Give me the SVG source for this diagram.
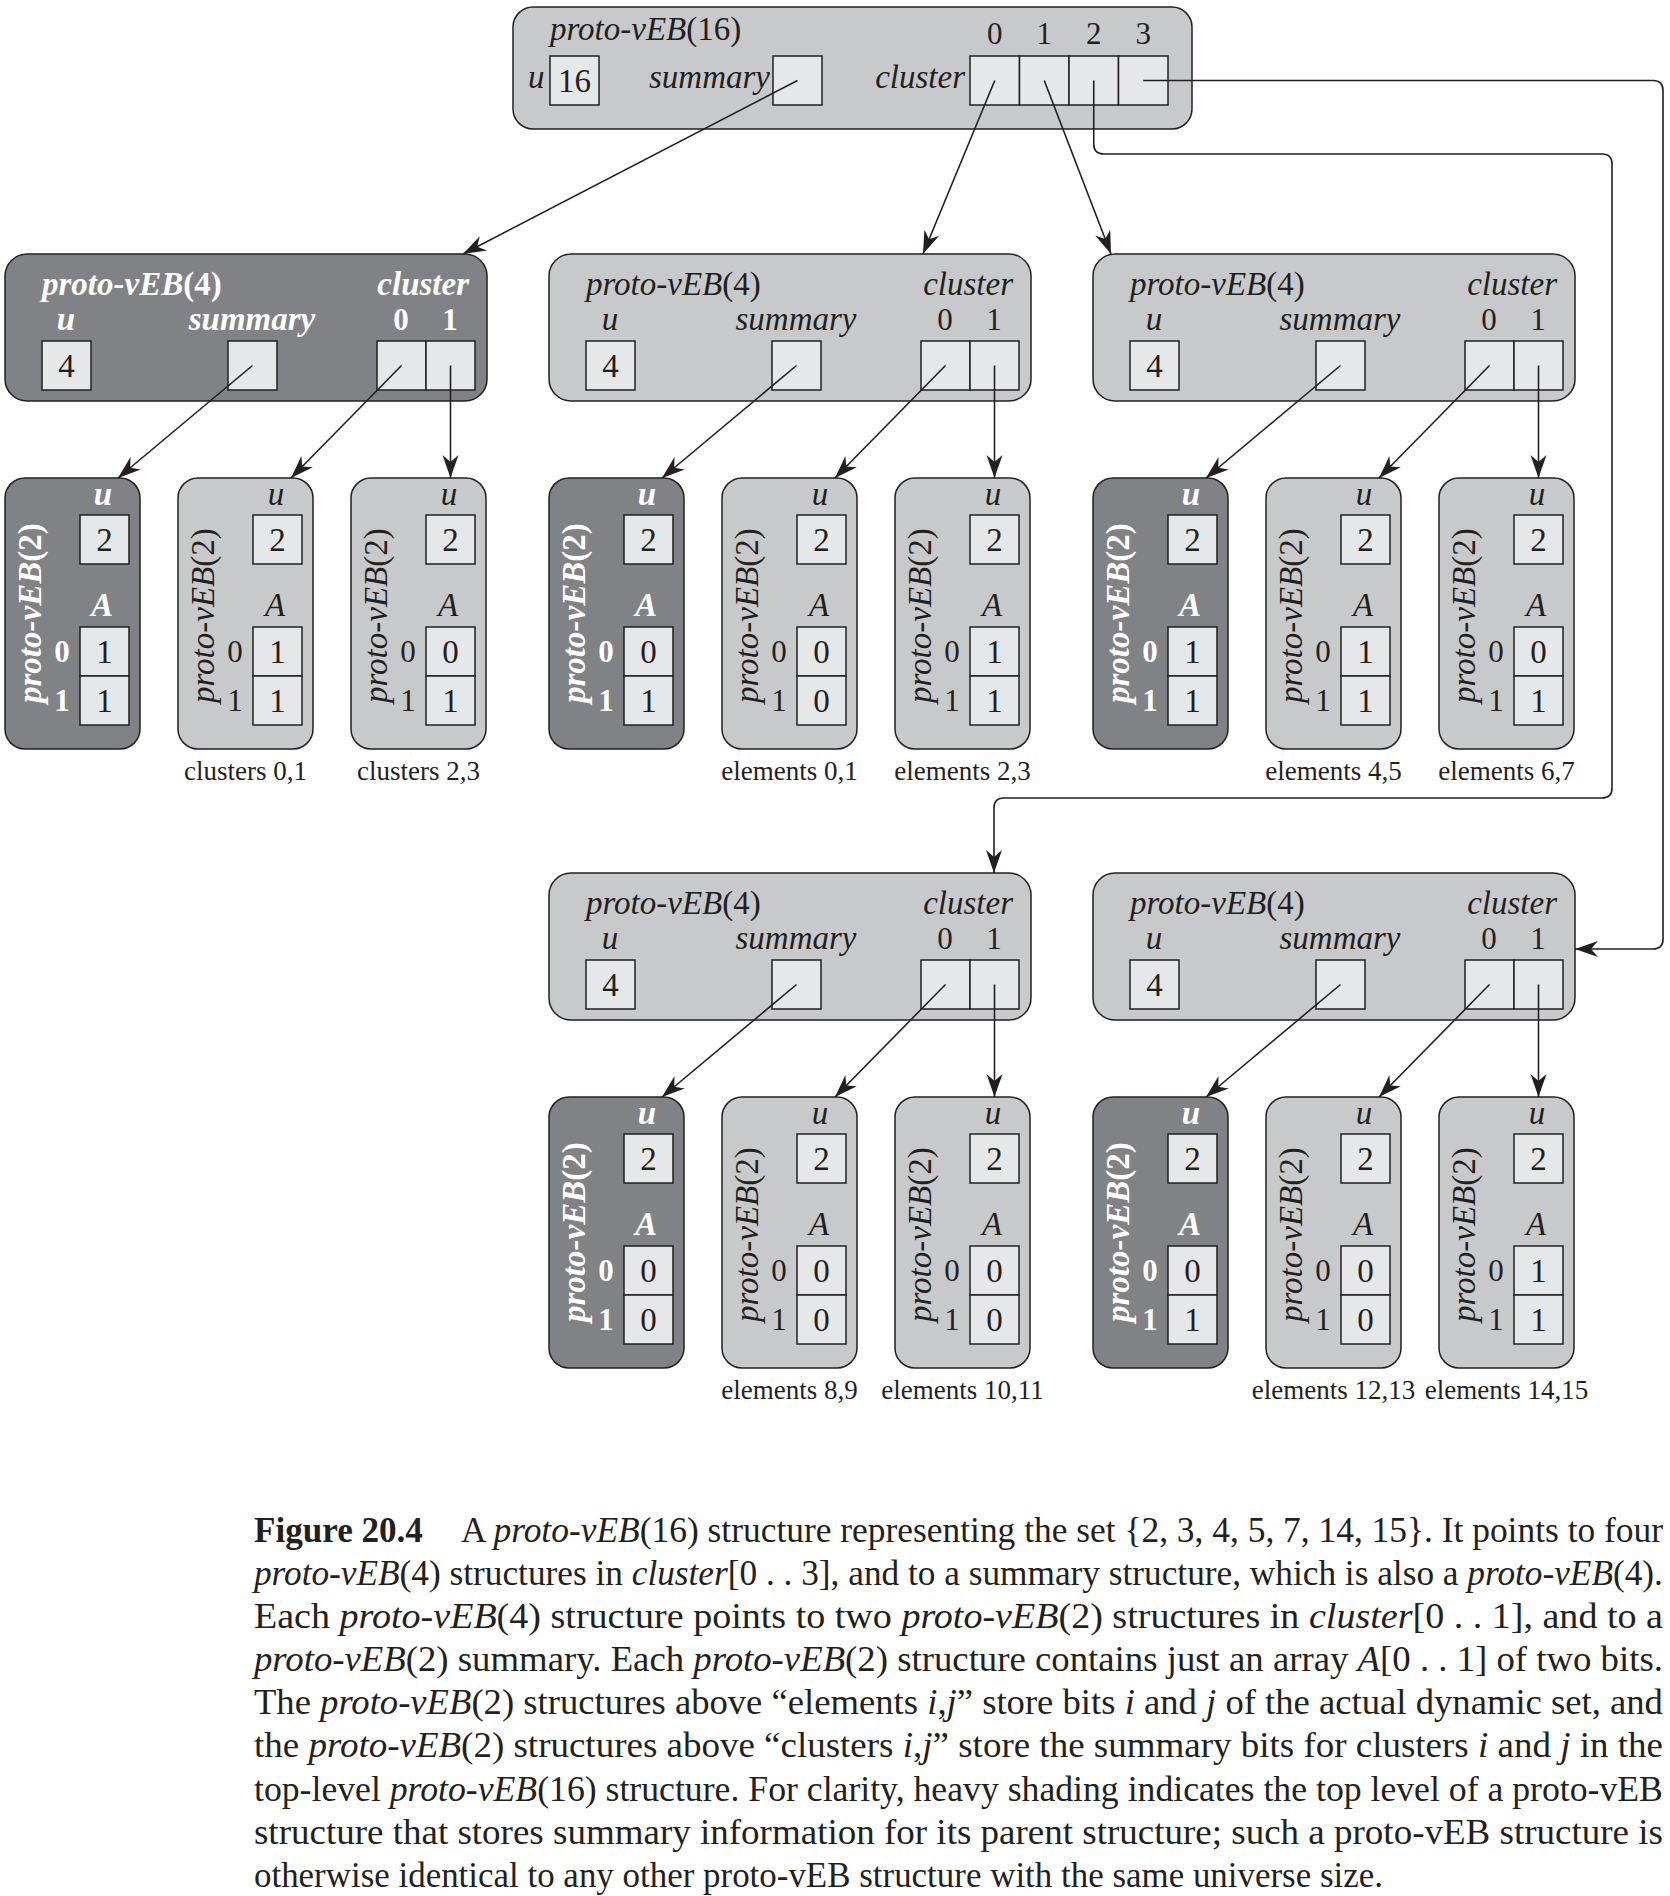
<svg xmlns="http://www.w3.org/2000/svg" width="1670" height="1896" viewBox="0 0 1670 1896">
<defs>
<style>
.lt{fill:#c8c9cb;stroke:#231f20;stroke-width:1.5}
.dk{fill:#808285;stroke:#231f20;stroke-width:1.5}
.cell{fill:#e6e7e8;stroke:#231f20;stroke-width:1.5}
text{font-family:"Liberation Serif","Times New Roman",serif;font-size:33px;fill:#231f20}
.i{font-style:italic}
.w{fill:#fff;font-weight:bold}
.c{text-anchor:middle}
.e{text-anchor:end}
.ix{font-size:31px}
.lbl{font-size:27px;text-anchor:middle}
.cap{font-size:36px}
.b{font-weight:bold}
.conn path{fill:none;stroke:#231f20;stroke-width:1.6;marker-end:url(#ah)}
</style>
<marker id="ah" viewBox="-24 -9 25 18" refX="0" refY="0" markerWidth="25" markerHeight="18" markerUnits="userSpaceOnUse" orient="auto">
<path d="M0,0 L-23,-8 L-16,0 L-23,8 Z" fill="#231f20"/>
</marker>
</defs>
<rect x="0" y="0" width="1670" height="1896" fill="#fff"/>

<g id="veb16">
<rect class="lt" x="513" y="7" width="679" height="122" rx="20"/>
<text x="550" y="40"><tspan class="i">proto-vEB</tspan>(16)</text>
<text class="i" x="528" y="88">u</text>
<rect class="cell" x="550" y="56" width="49" height="49"/>
<text class="c" x="574.5" y="92">16</text>
<text class="i e" x="770" y="88">summary</text>
<rect class="cell" x="773" y="56" width="49" height="49"/>
<text class="i e" x="965" y="88">cluster</text>
<rect class="cell" x="970" y="56" width="49.5" height="49"/>
<rect class="cell" x="1019.5" y="56" width="49.5" height="49"/>
<rect class="cell" x="1069" y="56" width="49.5" height="49"/>
<rect class="cell" x="1118.5" y="56" width="49.5" height="49"/>
<text class="c ix" x="994.75" y="44">0</text>
<text class="c ix" x="1044.25" y="44">1</text>
<text class="c ix" x="1093.75" y="44">2</text>
<text class="c ix" x="1143.25" y="44">3</text>
</g>

<g id="veb4-summary" transform="translate(5,254)">
<rect class="dk" x="0" y="0" width="482" height="147" rx="22"/>
<text class="w" x="37" y="41"><tspan class="i">proto-vEB</tspan>(4)</text>
<text class="w i e" x="464" y="41">cluster</text>
<text class="w i c" x="61" y="76">u</text>
<text class="w i c" x="247" y="76">summary</text>
<text class="w c ix" x="396" y="76">0</text>
<text class="w c ix" x="445" y="76">1</text>
<rect class="cell" x="37" y="87" width="49" height="49"/>
<text class="c" x="61.5" y="123">4</text>
<rect class="cell" x="223" y="87" width="49" height="49"/>
<rect class="cell" x="372" y="87" width="49" height="49"/>
<rect class="cell" x="421" y="87" width="49" height="49"/>
</g>

<g id="veb4-c0" transform="translate(549,254)">
<rect class="lt" x="0" y="0" width="482" height="147" rx="22"/>
<text x="37" y="41"><tspan class="i">proto-vEB</tspan>(4)</text>
<text class="i e" x="464" y="41">cluster</text>
<text class="i c" x="61" y="76">u</text>
<text class="i c" x="247" y="76">summary</text>
<text class="c ix" x="396" y="76">0</text>
<text class="c ix" x="445" y="76">1</text>
<rect class="cell" x="37" y="87" width="49" height="49"/>
<text class="c" x="61.5" y="123">4</text>
<rect class="cell" x="223" y="87" width="49" height="49"/>
<rect class="cell" x="372" y="87" width="49" height="49"/>
<rect class="cell" x="421" y="87" width="49" height="49"/>
</g>

<g id="veb4-c1" transform="translate(1093,254)">
<rect class="lt" x="0" y="0" width="482" height="147" rx="22"/>
<text x="37" y="41"><tspan class="i">proto-vEB</tspan>(4)</text>
<text class="i e" x="464" y="41">cluster</text>
<text class="i c" x="61" y="76">u</text>
<text class="i c" x="247" y="76">summary</text>
<text class="c ix" x="396" y="76">0</text>
<text class="c ix" x="445" y="76">1</text>
<rect class="cell" x="37" y="87" width="49" height="49"/>
<text class="c" x="61.5" y="123">4</text>
<rect class="cell" x="223" y="87" width="49" height="49"/>
<rect class="cell" x="372" y="87" width="49" height="49"/>
<rect class="cell" x="421" y="87" width="49" height="49"/>
</g>

<g id="veb4-c2" transform="translate(549,873)">
<rect class="lt" x="0" y="0" width="482" height="147" rx="22"/>
<text x="37" y="41"><tspan class="i">proto-vEB</tspan>(4)</text>
<text class="i e" x="464" y="41">cluster</text>
<text class="i c" x="61" y="76">u</text>
<text class="i c" x="247" y="76">summary</text>
<text class="c ix" x="396" y="76">0</text>
<text class="c ix" x="445" y="76">1</text>
<rect class="cell" x="37" y="87" width="49" height="49"/>
<text class="c" x="61.5" y="123">4</text>
<rect class="cell" x="223" y="87" width="49" height="49"/>
<rect class="cell" x="372" y="87" width="49" height="49"/>
<rect class="cell" x="421" y="87" width="49" height="49"/>
</g>

<g id="veb4-c3" transform="translate(1093,873)">
<rect class="lt" x="0" y="0" width="482" height="147" rx="22"/>
<text x="37" y="41"><tspan class="i">proto-vEB</tspan>(4)</text>
<text class="i e" x="464" y="41">cluster</text>
<text class="i c" x="61" y="76">u</text>
<text class="i c" x="247" y="76">summary</text>
<text class="c ix" x="396" y="76">0</text>
<text class="c ix" x="445" y="76">1</text>
<rect class="cell" x="37" y="87" width="49" height="49"/>
<text class="c" x="61.5" y="123">4</text>
<rect class="cell" x="223" y="87" width="49" height="49"/>
<rect class="cell" x="372" y="87" width="49" height="49"/>
<rect class="cell" x="421" y="87" width="49" height="49"/>
</g>

<!-- proto-vEB(2) nodes, row 1 -->
<g id="veb2-r1c1" transform="translate(5,478)">
<rect class="dk" x="0" y="0" width="135" height="271" rx="20"/>
<text class="w i c" x="98" y="27">u</text>
<rect class="cell" x="75" y="37" width="49" height="49"/><text class="c" x="99.5" y="73">2</text>
<text class="w i c" x="97" y="138">A</text>
<rect class="cell" x="75" y="149" width="49" height="49"/><rect class="cell" x="75" y="198" width="49" height="49"/>
<text class="c" x="99.5" y="185">1</text><text class="c" x="99.5" y="234">1</text>
<text class="w c ix" x="57" y="184">0</text><text class="w c ix" x="57" y="233">1</text>
<text class="w" transform="translate(36,225) rotate(-90)"><tspan class="i">proto-vEB</tspan>(2)</text>
</g>
<g id="veb2-r1c2" transform="translate(178,478)">
<rect class="lt" x="0" y="0" width="135" height="271" rx="20"/>
<text class="i c" x="98" y="27">u</text>
<rect class="cell" x="75" y="37" width="49" height="49"/><text class="c" x="99.5" y="73">2</text>
<text class="i c" x="97" y="138">A</text>
<rect class="cell" x="75" y="149" width="49" height="49"/><rect class="cell" x="75" y="198" width="49" height="49"/>
<text class="c" x="99.5" y="185">1</text><text class="c" x="99.5" y="234">1</text>
<text class="c ix" x="57" y="184">0</text><text class="c ix" x="57" y="233">1</text>
<text transform="translate(36,225) rotate(-90)"><tspan class="i">proto-vEB</tspan>(2)</text>
<text class="lbl" x="67.5" y="302">clusters 0,1</text>
</g>
<g id="veb2-r1c3" transform="translate(351,478)">
<rect class="lt" x="0" y="0" width="135" height="271" rx="20"/>
<text class="i c" x="98" y="27">u</text>
<rect class="cell" x="75" y="37" width="49" height="49"/><text class="c" x="99.5" y="73">2</text>
<text class="i c" x="97" y="138">A</text>
<rect class="cell" x="75" y="149" width="49" height="49"/><rect class="cell" x="75" y="198" width="49" height="49"/>
<text class="c" x="99.5" y="185">0</text><text class="c" x="99.5" y="234">1</text>
<text class="c ix" x="57" y="184">0</text><text class="c ix" x="57" y="233">1</text>
<text transform="translate(36,225) rotate(-90)"><tspan class="i">proto-vEB</tspan>(2)</text>
<text class="lbl" x="67.5" y="302">clusters 2,3</text>
</g>
<g id="veb2-r1c4" transform="translate(549,478)">
<rect class="dk" x="0" y="0" width="135" height="271" rx="20"/>
<text class="w i c" x="98" y="27">u</text>
<rect class="cell" x="75" y="37" width="49" height="49"/><text class="c" x="99.5" y="73">2</text>
<text class="w i c" x="97" y="138">A</text>
<rect class="cell" x="75" y="149" width="49" height="49"/><rect class="cell" x="75" y="198" width="49" height="49"/>
<text class="c" x="99.5" y="185">0</text><text class="c" x="99.5" y="234">1</text>
<text class="w c ix" x="57" y="184">0</text><text class="w c ix" x="57" y="233">1</text>
<text class="w" transform="translate(36,225) rotate(-90)"><tspan class="i">proto-vEB</tspan>(2)</text>
</g>
<g id="veb2-r1c5" transform="translate(722,478)">
<rect class="lt" x="0" y="0" width="135" height="271" rx="20"/>
<text class="i c" x="98" y="27">u</text>
<rect class="cell" x="75" y="37" width="49" height="49"/><text class="c" x="99.5" y="73">2</text>
<text class="i c" x="97" y="138">A</text>
<rect class="cell" x="75" y="149" width="49" height="49"/><rect class="cell" x="75" y="198" width="49" height="49"/>
<text class="c" x="99.5" y="185">0</text><text class="c" x="99.5" y="234">0</text>
<text class="c ix" x="57" y="184">0</text><text class="c ix" x="57" y="233">1</text>
<text transform="translate(36,225) rotate(-90)"><tspan class="i">proto-vEB</tspan>(2)</text>
<text class="lbl" x="67.5" y="302">elements 0,1</text>
</g>
<g id="veb2-r1c6" transform="translate(895,478)">
<rect class="lt" x="0" y="0" width="135" height="271" rx="20"/>
<text class="i c" x="98" y="27">u</text>
<rect class="cell" x="75" y="37" width="49" height="49"/><text class="c" x="99.5" y="73">2</text>
<text class="i c" x="97" y="138">A</text>
<rect class="cell" x="75" y="149" width="49" height="49"/><rect class="cell" x="75" y="198" width="49" height="49"/>
<text class="c" x="99.5" y="185">1</text><text class="c" x="99.5" y="234">1</text>
<text class="c ix" x="57" y="184">0</text><text class="c ix" x="57" y="233">1</text>
<text transform="translate(36,225) rotate(-90)"><tspan class="i">proto-vEB</tspan>(2)</text>
<text class="lbl" x="67.5" y="302">elements 2,3</text>
</g>
<g id="veb2-r1c7" transform="translate(1093,478)">
<rect class="dk" x="0" y="0" width="135" height="271" rx="20"/>
<text class="w i c" x="98" y="27">u</text>
<rect class="cell" x="75" y="37" width="49" height="49"/><text class="c" x="99.5" y="73">2</text>
<text class="w i c" x="97" y="138">A</text>
<rect class="cell" x="75" y="149" width="49" height="49"/><rect class="cell" x="75" y="198" width="49" height="49"/>
<text class="c" x="99.5" y="185">1</text><text class="c" x="99.5" y="234">1</text>
<text class="w c ix" x="57" y="184">0</text><text class="w c ix" x="57" y="233">1</text>
<text class="w" transform="translate(36,225) rotate(-90)"><tspan class="i">proto-vEB</tspan>(2)</text>
</g>
<g id="veb2-r1c8" transform="translate(1266,478)">
<rect class="lt" x="0" y="0" width="135" height="271" rx="20"/>
<text class="i c" x="98" y="27">u</text>
<rect class="cell" x="75" y="37" width="49" height="49"/><text class="c" x="99.5" y="73">2</text>
<text class="i c" x="97" y="138">A</text>
<rect class="cell" x="75" y="149" width="49" height="49"/><rect class="cell" x="75" y="198" width="49" height="49"/>
<text class="c" x="99.5" y="185">1</text><text class="c" x="99.5" y="234">1</text>
<text class="c ix" x="57" y="184">0</text><text class="c ix" x="57" y="233">1</text>
<text transform="translate(36,225) rotate(-90)"><tspan class="i">proto-vEB</tspan>(2)</text>
<text class="lbl" x="67.5" y="302">elements 4,5</text>
</g>
<g id="veb2-r1c9" transform="translate(1439,478)">
<rect class="lt" x="0" y="0" width="135" height="271" rx="20"/>
<text class="i c" x="98" y="27">u</text>
<rect class="cell" x="75" y="37" width="49" height="49"/><text class="c" x="99.5" y="73">2</text>
<text class="i c" x="97" y="138">A</text>
<rect class="cell" x="75" y="149" width="49" height="49"/><rect class="cell" x="75" y="198" width="49" height="49"/>
<text class="c" x="99.5" y="185">0</text><text class="c" x="99.5" y="234">1</text>
<text class="c ix" x="57" y="184">0</text><text class="c ix" x="57" y="233">1</text>
<text transform="translate(36,225) rotate(-90)"><tspan class="i">proto-vEB</tspan>(2)</text>
<text class="lbl" x="67.5" y="302">elements 6,7</text>
</g>

<!-- proto-vEB(2) nodes, row 2 -->
<g id="veb2-r2c4" transform="translate(549,1097)">
<rect class="dk" x="0" y="0" width="135" height="271" rx="20"/>
<text class="w i c" x="98" y="27">u</text>
<rect class="cell" x="75" y="37" width="49" height="49"/><text class="c" x="99.5" y="73">2</text>
<text class="w i c" x="97" y="138">A</text>
<rect class="cell" x="75" y="149" width="49" height="49"/><rect class="cell" x="75" y="198" width="49" height="49"/>
<text class="c" x="99.5" y="185">0</text><text class="c" x="99.5" y="234">0</text>
<text class="w c ix" x="57" y="184">0</text><text class="w c ix" x="57" y="233">1</text>
<text class="w" transform="translate(36,225) rotate(-90)"><tspan class="i">proto-vEB</tspan>(2)</text>
</g>
<g id="veb2-r2c5" transform="translate(722,1097)">
<rect class="lt" x="0" y="0" width="135" height="271" rx="20"/>
<text class="i c" x="98" y="27">u</text>
<rect class="cell" x="75" y="37" width="49" height="49"/><text class="c" x="99.5" y="73">2</text>
<text class="i c" x="97" y="138">A</text>
<rect class="cell" x="75" y="149" width="49" height="49"/><rect class="cell" x="75" y="198" width="49" height="49"/>
<text class="c" x="99.5" y="185">0</text><text class="c" x="99.5" y="234">0</text>
<text class="c ix" x="57" y="184">0</text><text class="c ix" x="57" y="233">1</text>
<text transform="translate(36,225) rotate(-90)"><tspan class="i">proto-vEB</tspan>(2)</text>
<text class="lbl" x="67.5" y="302">elements 8,9</text>
</g>
<g id="veb2-r2c6" transform="translate(895,1097)">
<rect class="lt" x="0" y="0" width="135" height="271" rx="20"/>
<text class="i c" x="98" y="27">u</text>
<rect class="cell" x="75" y="37" width="49" height="49"/><text class="c" x="99.5" y="73">2</text>
<text class="i c" x="97" y="138">A</text>
<rect class="cell" x="75" y="149" width="49" height="49"/><rect class="cell" x="75" y="198" width="49" height="49"/>
<text class="c" x="99.5" y="185">0</text><text class="c" x="99.5" y="234">0</text>
<text class="c ix" x="57" y="184">0</text><text class="c ix" x="57" y="233">1</text>
<text transform="translate(36,225) rotate(-90)"><tspan class="i">proto-vEB</tspan>(2)</text>
<text class="lbl" x="67.5" y="302">elements 10,11</text>
</g>
<g id="veb2-r2c7" transform="translate(1093,1097)">
<rect class="dk" x="0" y="0" width="135" height="271" rx="20"/>
<text class="w i c" x="98" y="27">u</text>
<rect class="cell" x="75" y="37" width="49" height="49"/><text class="c" x="99.5" y="73">2</text>
<text class="w i c" x="97" y="138">A</text>
<rect class="cell" x="75" y="149" width="49" height="49"/><rect class="cell" x="75" y="198" width="49" height="49"/>
<text class="c" x="99.5" y="185">0</text><text class="c" x="99.5" y="234">1</text>
<text class="w c ix" x="57" y="184">0</text><text class="w c ix" x="57" y="233">1</text>
<text class="w" transform="translate(36,225) rotate(-90)"><tspan class="i">proto-vEB</tspan>(2)</text>
</g>
<g id="veb2-r2c8" transform="translate(1266,1097)">
<rect class="lt" x="0" y="0" width="135" height="271" rx="20"/>
<text class="i c" x="98" y="27">u</text>
<rect class="cell" x="75" y="37" width="49" height="49"/><text class="c" x="99.5" y="73">2</text>
<text class="i c" x="97" y="138">A</text>
<rect class="cell" x="75" y="149" width="49" height="49"/><rect class="cell" x="75" y="198" width="49" height="49"/>
<text class="c" x="99.5" y="185">0</text><text class="c" x="99.5" y="234">0</text>
<text class="c ix" x="57" y="184">0</text><text class="c ix" x="57" y="233">1</text>
<text transform="translate(36,225) rotate(-90)"><tspan class="i">proto-vEB</tspan>(2)</text>
<text class="lbl" x="67.5" y="302">elements 12,13</text>
</g>
<g id="veb2-r2c9" transform="translate(1439,1097)">
<rect class="lt" x="0" y="0" width="135" height="271" rx="20"/>
<text class="i c" x="98" y="27">u</text>
<rect class="cell" x="75" y="37" width="49" height="49"/><text class="c" x="99.5" y="73">2</text>
<text class="i c" x="97" y="138">A</text>
<rect class="cell" x="75" y="149" width="49" height="49"/><rect class="cell" x="75" y="198" width="49" height="49"/>
<text class="c" x="99.5" y="185">1</text><text class="c" x="99.5" y="234">1</text>
<text class="c ix" x="57" y="184">0</text><text class="c ix" x="57" y="233">1</text>
<text transform="translate(36,225) rotate(-90)"><tspan class="i">proto-vEB</tspan>(2)</text>
<text class="lbl" x="67.5" y="302">elements 14,15</text>
</g>

<g id="connectors" class="conn">
<path d="M797.5,80.5 L463,254"/>
<path d="M994.75,80.5 L923,254"/>
<path d="M1044.25,80.5 L1111,254"/>
<path d="M1093.75,80.5 V144 Q1093.75,154 1103.75,154 H1602 Q1612,154 1612,164 V788 Q1612,798 1602,798 H1004 Q994,798 994,808 V873"/>
<path d="M1143.25,80.5 H1653 Q1663,80.5 1663,90.5 V939 Q1663,949 1653,949 H1575"/>
<path d="M252.5,365.5 L118,478"/>
<path d="M401.5,365.5 L291,478"/>
<path d="M450.5,365.5 V478"/>
<path d="M796.5,365.5 L662,478"/>
<path d="M945.5,365.5 L835,478"/>
<path d="M994.5,365.5 V478"/>
<path d="M1340.5,365.5 L1206,478"/>
<path d="M1489.5,365.5 L1379,478"/>
<path d="M1538.5,365.5 V478"/>
<path d="M796.5,984.5 L662,1097"/>
<path d="M945.5,984.5 L835,1097"/>
<path d="M994.5,984.5 V1097"/>
<path d="M1340.5,984.5 L1206,1097"/>
<path d="M1489.5,984.5 L1379,1097"/>
<path d="M1538.5,984.5 V1097"/>
</g>

<g id="caption" transform="scale(0.88,1)">
<text class="cap b" x="288.6" y="1542" textLength="192" lengthAdjust="spacingAndGlyphs">Figure 20.4</text>
<text class="cap" x="523.9" y="1542" textLength="1365.9" lengthAdjust="spacingAndGlyphs">A <tspan class="i">proto-vEB</tspan>(16) structure representing the set {2, 3, 4, 5, 7, 14, 15}. It points to four</text>
<text class="cap" x="288.6" y="1585" textLength="1601.1" lengthAdjust="spacingAndGlyphs"><tspan class="i">proto-vEB</tspan>(4) structures in <tspan class="i">cluster</tspan>[0 . . 3], and to a summary structure, which is also a <tspan class="i">proto-vEB</tspan>(4).</text>
<text class="cap" x="288.6" y="1628" textLength="1601.1" lengthAdjust="spacingAndGlyphs">Each <tspan class="i">proto-vEB</tspan>(4) structure points to two <tspan class="i">proto-vEB</tspan>(2) structures in <tspan class="i">cluster</tspan>[0 . . 1], and to a</text>
<text class="cap" x="288.6" y="1671" textLength="1601.1" lengthAdjust="spacingAndGlyphs"><tspan class="i">proto-vEB</tspan>(2) summary. Each <tspan class="i">proto-vEB</tspan>(2) structure contains just an array <tspan class="i">A</tspan>[0 . . 1] of two bits.</text>
<text class="cap" x="288.6" y="1714" textLength="1601.1" lengthAdjust="spacingAndGlyphs">The <tspan class="i">proto-vEB</tspan>(2) structures above “elements <tspan class="i">i</tspan>,<tspan class="i">j</tspan>” store bits <tspan class="i">i</tspan> and <tspan class="i">j</tspan> of the actual dynamic set, and</text>
<text class="cap" x="288.6" y="1757" textLength="1601.1" lengthAdjust="spacingAndGlyphs">the <tspan class="i">proto-vEB</tspan>(2) structures above “clusters <tspan class="i">i</tspan>,<tspan class="i">j</tspan>” store the summary bits for clusters <tspan class="i">i</tspan> and <tspan class="i">j</tspan> in the</text>
<text class="cap" x="288.6" y="1801" textLength="1601.1" lengthAdjust="spacingAndGlyphs">top-level <tspan class="i">proto-vEB</tspan>(16) structure. For clarity, heavy shading indicates the top level of a proto-vEB</text>
<text class="cap" x="288.6" y="1844" textLength="1601.1" lengthAdjust="spacingAndGlyphs">structure that stores summary information for its parent structure; such a proto-vEB structure is</text>
<text class="cap" x="288.6" y="1887" textLength="1283" lengthAdjust="spacingAndGlyphs">otherwise identical to any other proto-vEB structure with the same universe size.</text>
</g>
</svg>
